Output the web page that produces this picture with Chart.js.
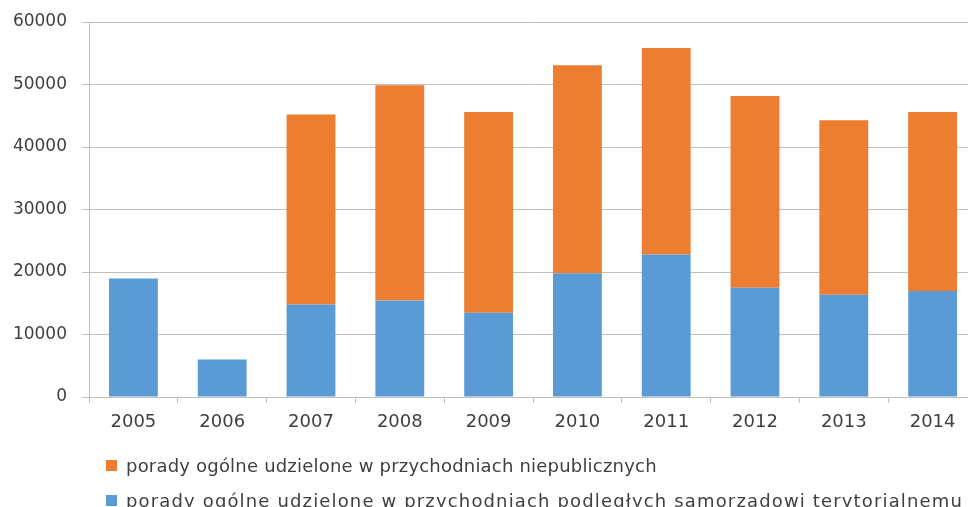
<!DOCTYPE html>
<html>
<head>
<meta charset="utf-8">
<script src="https://cdn.jsdelivr.net/npm/chart.js@4/dist/chart.umd.min.js"></script>
<style>
  html, body { margin:0; padding:0; background:#fff; overflow:hidden; width:968px; height:507px; }
  #wrap { position:absolute; left:0; top:0; width:977px; height:507px; }
  #legend { position:absolute; left:0; top:0; font-family:"DejaVu Sans", sans-serif; font-size:18px; color:#404040; }
  .item { position:absolute; white-space:nowrap; height:22px; line-height:22px; }
  .box { position:absolute; width:11px; height:11px; top:5px; left:0; }
  .txt { position:absolute; left:20px; top:0; }
</style>
</head>
<body>
<div id="wrap"><canvas id="c" width="977" height="507"></canvas></div>
<div id="legend"></div>
<script>
const years = ["2005","2006","2007","2008","2009","2010","2011","2012","2013","2014"];
const samorzadowe = [18950, 6000, 14800, 15450, 13500, 19800, 22800, 17500, 16350, 16950];
const niepubliczne = [null, null, 30400, 34450, 32100, 33300, 33050, 30650, 27950, 28650];
const seriesLabels = [
  "porady ogólne udzielone w przychodniach niepublicznych",
  "porady ogólne udzielone w przychodniach podległych samorządowi terytorialnemu"
];
const yTicks = [0, 10000, 20000, 30000, 40000, 50000, 60000];
const colBlue = "#5B9BD5", colOrange = "#ED7D31", gridCol = "#BFBFBF", textCol = "#404040";

new Chart(document.getElementById("c"), {
  type: "bar",
  data: {
    labels: years,
    datasets: [
      { label: seriesLabels[1], data: samorzadowe, backgroundColor: colBlue, barPercentage: 0.55, categoryPercentage: 1 },
      { label: seriesLabels[0], data: niepubliczne, backgroundColor: colOrange, barPercentage: 0.55, categoryPercentage: 1 }
    ]
  },
  options: {
    responsive: false,
    animation: false,
    layout: { padding: { top: 22, left: 0, right: 0, bottom: 0 } },
    plugins: { legend: { display: false }, tooltip: { enabled: false } },
    scales: {
      x: {
        stacked: true,
        grid: { drawOnChartArea: false, drawTicks: true, tickLength: 6, color: gridCol, offset: true },
        border: { color: gridCol, width: 1 },
        ticks: { color: textCol, font: { family: "DejaVu Sans", size: 18 }, padding: 9, maxRotation: 0 },
        afterFit: s => { s.height = 110; }
      },
      y: {
        stacked: true,
        min: 0, max: 60000,
        afterBuildTicks: s => { s.ticks = yTicks.map(v => ({ value: v })); },
        grid: { color: gridCol, lineWidth: 1, tickLength: 7 },
        border: { color: gridCol, width: 1 },
        ticks: { color: textCol, font: { family: "DejaVu Sans", size: 17, lineHeight: 0.82 }, padding: 15, callback: v => String(v) },
        afterFit: s => { s.width = 89; }
      }
    }
  }
});

const legend = document.getElementById("legend");
const legendItems = [
  { text: seriesLabels[0], color: colOrange, x: 106, y: 455, spacing: 0.2 },
  { text: seriesLabels[1], color: colBlue, x: 106, y: 490, spacing: 1.15 }
];
legendItems.forEach(it => {
  const d = document.createElement("div");
  d.className = "item";
  d.style.left = it.x + "px"; d.style.top = it.y + "px";
  d.innerHTML = '<span class="box" style="background:' + it.color + '"></span><span class="txt"></span>';
  const t = d.querySelector(".txt");
  t.textContent = it.text;
  t.style.letterSpacing = it.spacing + "px";
  legend.appendChild(d);
});
</script>
</body>
</html>
